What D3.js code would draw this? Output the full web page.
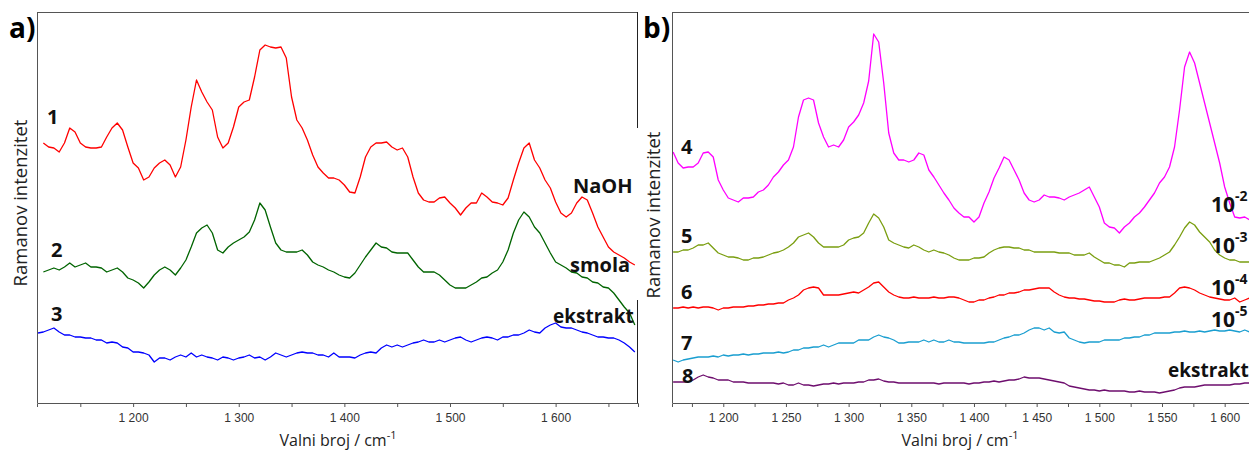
<!DOCTYPE html>
<html><head><meta charset="utf-8">
<script src="https://cdn.jsdelivr.net/npm/d3@7"></script>
<style>
html,body{margin:0;padding:0;background:#fff;}
svg{display:block;}
</style></head>
<body>
<svg id="chart" width="1249" height="452"></svg>
<script>
// ---- Data: wavenumber grids (cm-1) and intensities (a.u.) ----
// Panel a: grid 1110..1675 step 5 (red/green start at 1115)
const wnA = d3.range(1110, 1676, 5);
const naoh = [260,256,255,251,260,275,271,260,256,255,255,256,266,275,280,273,256,240,235,223,226,235,240,243,238,226,236,263,296,323,311,301,293,266,255,260,276,296,301,303,326,353,358,356,355,356,345,306,283,275,263,248,236,230,225,225,223,218,211,210,226,246,256,260,260,261,256,253,255,246,226,210,203,201,201,205,206,200,195,188,195,200,200,210,206,201,200,198,205,223,240,255,260,243,235,223,215,201,190,186,190,200,206,203,190,176,166,156,151,148,145,141,138];
const smola = [131,133,135,133,136,140,136,138,140,136,136,135,131,133,135,131,125,123,120,115,121,128,133,136,133,128,135,143,156,170,175,178,170,153,150,156,160,163,166,171,183,200,193,176,160,153,151,151,151,153,148,141,138,136,133,131,128,126,125,130,138,146,153,160,156,155,151,150,150,150,143,136,131,131,131,128,123,118,115,115,115,118,121,125,126,130,133,141,153,170,183,191,186,176,170,160,150,141,138,135,131,130,126,125,121,120,116,115,110,103,96,90,78];
const ekstraktA = [70,71,73,75,71,68,68,66,66,65,65,63,63,60,61,60,56,55,51,51,50,48,41,45,45,43,46,48,46,50,46,48,46,45,43,46,45,43,45,46,48,45,46,43,46,50,48,46,48,50,51,50,50,48,48,46,50,46,46,46,45,48,50,51,50,55,58,56,58,56,58,60,61,63,61,61,63,61,63,65,66,63,61,63,65,66,65,63,66,66,68,68,70,73,71,70,75,78,80,76,75,75,73,71,70,68,66,66,65,65,63,60,56,51];
// Panel b: grid 1160..1620 step 4
const wnB = d3.range(1160, 1621, 4);
const c1e2 = [251,240,235,236,236,240,250,251,246,223,213,205,203,201,205,205,206,211,213,218,226,231,238,243,256,286,303,305,303,280,266,256,258,256,263,276,281,288,300,322,369,361,320,270,250,243,243,241,243,250,248,233,
  226,218,210,203,195,190,186,186,181,186,200,211,225,235,246,243,233,223,210,203,201,203,208,206,206,205,203,206,208,210,213,216,206,196,180,176,175,170,176,180,186,190,196,203,210,220,226,236,256,293,336,351,340,320,300,280,260,240,216,200,186,185,186,183];
const c1e3 = [151,151,153,153,155,158,158,160,155,150,148,146,146,145,143,143,145,145,146,148,150,151,153,156,160,166,168,170,166,160,156,156,156,156,158,163,165,166,170,180,189,185,176,163,160,158,156,155,158,156,153,151,
  153,151,150,148,145,143,143,143,145,145,146,150,153,155,156,156,155,155,153,153,151,151,151,151,151,150,150,150,148,148,148,150,146,143,140,140,138,138,136,140,140,141,141,141,143,145,148,151,158,166,175,181,178,171,166,161,153,148,145,143,143,141,141,141];
const c1e4 = [95,95,96,95,96,95,96,96,95,93,95,95,96,96,96,97,97,98,98,99,99,100,100,103,105,108,113,115,116,115,108,108,108,108,109,110,111,110,113,116,120,121,116,111,108,106,105,105,106,105,105,105,
  106,105,105,106,106,105,103,101,101,103,103,105,106,108,108,110,110,111,113,113,114,115,115,115,111,108,106,105,105,104,104,103,102,102,101,101,101,103,104,103,103,104,105,105,105,105,106,106,110,115,116,115,113,110,108,106,105,104,103,103,105,101,103,105];
const c1e5 = [43,41,43,44,45,46,46,46,47,46,48,47,48,48,49,48,49,49,50,50,50,51,50,51,53,53,55,55,56,56,58,56,58,60,60,60,60,63,63,63,66,68,66,65,63,60,60,61,61,61,63,61,
  63,61,61,63,61,61,60,60,60,60,60,61,61,63,65,66,68,68,70,73,75,75,73,75,71,70,71,65,63,61,60,61,61,61,63,63,63,63,65,65,66,66,68,68,70,70,70,70,71,71,72,71,71,72,71,72,73,72,72,73,72,71,73,71];
const ekstraktB = [21,21,21,21,23,26,28,26,25,23,23,23,21,21,21,20,20,20,20,20,20,19,20,18,18,20,18,18,17,18,19,19,20,19,20,20,20,21,21,23,23,24,22,21,21,20,20,20,20,20,20,20,
  20,19,20,20,20,20,20,19,20,20,21,21,22,21,22,23,23,24,26,25,25,25,24,23,22,21,20,17,16,15,14,13,13,12,13,12,12,12,12,11,11,12,11,11,11,10,11,12,13,15,16,16,16,17,18,18,18,18,18,18,19,19,20,20];

const ticksA = [1200,1300,1400,1500,1600];
const minorA = [1150,1250,1350,1450,1550,1650];
const ticksB = [1200,1250,1300,1350,1400,1450,1500,1550,1600];
const minorB = [1175,1225,1275,1325,1375,1425,1475,1525,1575];
const labelsA = ["1","2","3"];
const labelsB = ["4","5","6","7","8"];
const tagsA = ["NaOH","smola","ekstrakt"];
const expB = ["-2","-3","-4","-5"];

const svg = d3.select("#chart");
const fmtTick = d => String(d).replace(/^(\d)(\d{3})$/, "$1 $2");
const zip = (xs, ys) => ys.map((v,i)=>[xs[i], v]);

function panel(cfg){
  const x = d3.scaleLinear().domain(cfg.xd).range(cfg.xr);
  const y = d3.scaleLinear().domain([0,391]).range([403,12]);
  const g = svg.append("g");
  const clipId = "clip"+cfg.id;
  svg.append("clipPath").attr("id",clipId).append("rect")
    .attr("x",cfg.xr[0]).attr("y",12).attr("width",cfg.xr[1]-cfg.xr[0]).attr("height",391);
  const line = d3.line().x(d=>x(d[0])).y(d=>y(d[1]));
  cfg.series.forEach(s=>{
    g.append("path").datum(s.data).attr("d",line).attr("fill","none")
      .attr("stroke",s.color).attr("stroke-width",1.3).attr("stroke-linejoin","round")
      .attr("clip-path",`url(#${clipId})`);
  });
  const fc = "#555";
  g.append("line").attr("x1",cfg.xr[0]).attr("x2",cfg.xr[1]).attr("y1",12.5).attr("y2",12.5).attr("stroke",fc);
  g.append("line").attr("x1",cfg.xr[0]+0.5).attr("x2",cfg.xr[0]+0.5).attr("y1",12).attr("y2",403).attr("stroke",fc);
  if(cfg.rightSegs) cfg.rightSegs.forEach(r=>{
    g.append("line").attr("x1",cfg.xr[1]-0.5).attr("x2",cfg.xr[1]-0.5).attr("y1",r[0]).attr("y2",r[1]).attr("stroke","#222");
  });
  const ax = g.append("g").attr("transform","translate(0,403)")
    .call(d3.axisBottom(x).tickValues(cfg.ticks).tickSize(4).tickFormat(fmtTick));
  ax.select(".domain").attr("stroke",fc);
  ax.selectAll(".tick line").attr("stroke",fc);
  ax.selectAll("text").attr("fill","#333").style("font-family","'Liberation Sans', Arial, sans-serif").style("font-size","12px").attr("dy","1.0em");
  g.append("g").attr("transform","translate(0,403)")
    .call(d3.axisBottom(x).tickValues(cfg.minor).tickSize(4).tickFormat(""))
    .call(a=>{a.select(".domain").remove(); a.selectAll(".tick line").attr("stroke",fc);});
  const tf = "'Open Sans', 'Noto Sans', sans-serif";
  g.append("text").attr("transform",`translate(${cfg.ylabX},${cfg.ylabY}) rotate(-90)`).attr("text-anchor","middle")
    .style("font-family",tf).style("font-size","18.5px").attr("fill","#222").text("Ramanov intenzitet");
  const xt = g.append("text").attr("x",cfg.xlabX).attr("y",446).attr("text-anchor","middle")
    .style("font-family",tf).style("font-size","16px").attr("fill","#222");
  xt.append("tspan").text("Valni broj / cm");
  xt.append("tspan").attr("dy","-7").style("font-size","11px").text("-1");
  g.append("text").attr("x",cfg.letterX).attr("y",38).style("font-family",tf).style("font-weight","bold")
    .style("font-size","28px").attr("fill","#000").text(cfg.letter);
  return {x,y,g};
}

const bold = "'Open Sans', 'Noto Sans', sans-serif";
panel({id:"a", xd:[1109,1678], xr:[37,638], ticks:ticksA, minor:minorA, ylabX:27, ylabY:203, xlabX:338, letterX:9, letter:"a)",
  rightSegs:[[12,128],[300,403]],
  series:[{data:zip(wnA.slice(1),naoh),color:"#ff0000"},{data:zip(wnA.slice(1),smola),color:"#006400"},{data:zip(wnA,ekstraktA),color:"#0000ff"}]});
panel({id:"b", xd:[1159.1,1620.2], xr:[672,1250], ticks:ticksB, minor:minorB, ylabX:660, ylabY:215, xlabX:960, letterX:643, letter:"b)",
  series:[{data:zip(wnB,c1e2),color:"#ff00ff"},{data:zip(wnB,c1e3),color:"#7a9e10"},{data:zip(wnB,c1e4),color:"#ff0000"},{data:zip(wnB,c1e5),color:"#1a9ed0"},{data:zip(wnB,ekstraktB),color:"#6e0e6e"}]});

function lab(x,y,t,size){
  svg.append("text").attr("x",x).attr("y",y).style("font-family",bold).style("font-weight","bold")
    .style("font-size",(size||20)+"px").attr("fill","#111").text(t);
}
const numPosA = [[47,124],[51,257],[51,321]];
labelsA.forEach((t,i)=>lab(numPosA[i][0],numPosA[i][1],t));
const numPosB = [[681,154],[681,243],[681,299],[681,350],[682,383]];
labelsB.forEach((t,i)=>lab(numPosB[i][0],numPosB[i][1],t));
const tagPosA = [[573,193,20],[570,272,20],[553,323,19]];
tagsA.forEach((t,i)=>lab(tagPosA[i][0],tagPosA[i][1],t,tagPosA[i][2]));
const expPos = [[1211,212],[1211,253],[1211,295],[1211,327]];
expB.forEach((e,i)=>{
  const t = svg.append("text").attr("x",expPos[i][0]).attr("y",expPos[i][1]).style("font-family",bold)
    .style("font-weight","bold").style("font-size","21px").attr("fill","#111");
  t.append("tspan").text("10");
  t.append("tspan").attr("dy","-11").style("font-size","14px").text(e);
});
lab(1168,377,"ekstrakt",19);
</script>
</body></html>
